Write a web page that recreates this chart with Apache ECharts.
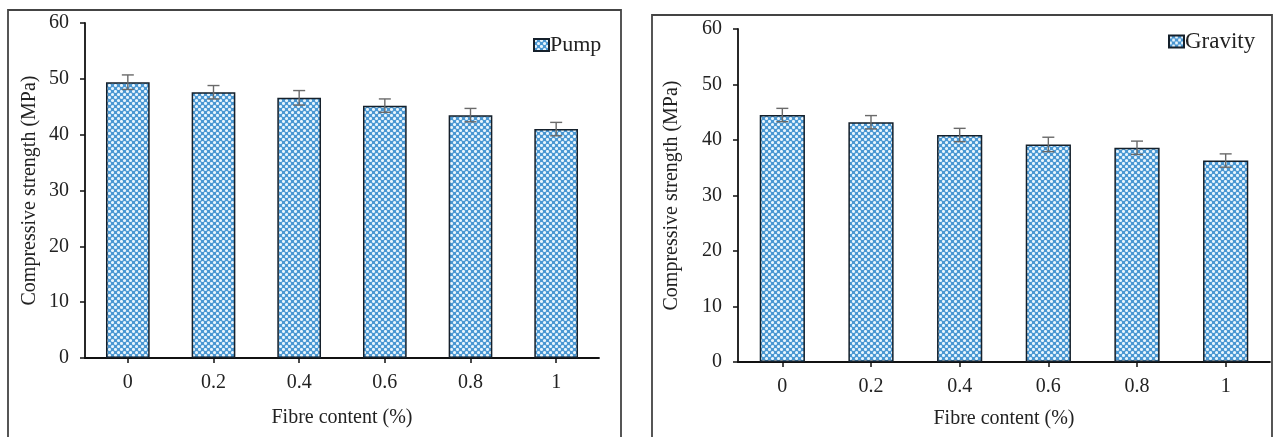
<!DOCTYPE html>
<html>
<head>
<meta charset="utf-8">
<script src="https://cdn.jsdelivr.net/npm/echarts@6/dist/echarts.min.js"></script>
<style>
html,body{margin:0;padding:0;background:#fff;}
#main{width:1273px;height:437px;}
</style>
</head>
<body>
<div id="main"></div>
<script>
// ---- data ----
var categories = ['0', '0.2', '0.4', '0.6', '0.8', '1'];
var pump = [49.4, 47.6, 46.6, 45.2, 43.5, 41.0];
var pumpErr = [1.3, 1.2, 1.3, 1.2, 1.2, 1.2];
var gravity = [44.5, 43.2, 40.9, 39.2, 38.6, 36.3];
var gravityErr = [1.2, 1.2, 1.2, 1.3, 1.2, 1.2];
var yTicks = [0, 10, 20, 30, 40, 50, 60];

// ---- pattern fill ----
function makePattern() {
  var c = document.createElement('canvas');
  c.width = 6; c.height = 6;
  var g = c.getContext('2d');
  g.fillStyle = '#4a97d2';
  g.fillRect(0, 0, 6, 6);
  g.fillStyle = '#e8f5fd';
  [[1.5, 1.5], [4.5, 4.5]].forEach(function (p) {
    g.beginPath(); g.arc(p[0], p[1], 1.55, 0, Math.PI * 2); g.fill();
  });
  return c;
}
var pattern = { image: makePattern(), repeat: 'repeat' };

var font = 'Liberation Serif';
var ink = '#222';

function errData(vals, errs) {
  return vals.map(function (v, i) { return [i, v - errs[i], v + errs[i]]; });
}
function renderErr(params, api) {
  var x = api.value(0);
  var lo = api.coord([x, api.value(1)]);
  var hi = api.coord([x, api.value(2)]);
  var hw = 6;
  var st = { stroke: '#6a6a6a', lineWidth: 1.4 };
  return {
    type: 'group',
    children: [
      { type: 'line', shape: { x1: lo[0], y1: lo[1], x2: hi[0], y2: hi[1] }, style: st },
      { type: 'line', shape: { x1: hi[0] - hw, y1: hi[1], x2: hi[0] + hw, y2: hi[1] }, style: st },
      { type: 'line', shape: { x1: lo[0] - hw, y1: lo[1], x2: lo[0] + hw, y2: lo[1] }, style: st }
    ]
  };
}

function xAxis(idx, gap) {
  return {
    type: 'category', gridIndex: idx, data: categories,
    name: 'Fibre content (%)', nameLocation: 'middle', nameGap: gap,
    nameTextStyle: { fontFamily: font, fontSize: 20, color: ink },
    axisLine: { lineStyle: { color: '#111', width: 1.8 } },
    axisTick: { show: true, alignWithLabel: true, length: 5, lineStyle: { color: '#111', width: 1.5 } },
    axisLabel: { fontFamily: font, fontSize: 20, color: ink, margin: 15 },
    splitLine: { show: false }
  };
}
function yAxis(idx, gap) {
  return {
    type: 'value', gridIndex: idx, min: yTicks[0], max: yTicks[yTicks.length - 1], interval: 10,
    name: 'Compressive strength (MPa)', nameLocation: 'middle', nameGap: gap, nameRotate: 90,
    nameTextStyle: { fontFamily: font, fontSize: 20, color: ink },
    axisLine: { show: true, lineStyle: { color: '#111', width: 1.8 } },
    axisTick: { show: true, length: 5, lineStyle: { color: '#111', width: 1.5 } },
    axisLabel: { fontFamily: font, fontSize: 20, color: ink, margin: 16 },
    splitLine: { show: false }
  };
}
function barSeries(name, data, idx) {
  return {
    name: name, type: 'bar', xAxisIndex: idx, yAxisIndex: idx, data: data,
    barWidth: '51%',
    itemStyle: { color: pattern, borderColor: '#15202b', borderWidth: 1.5 },
    emphasis: { disabled: true }
  };
}

var chart = echarts.init(document.getElementById('main'), null, { renderer: 'canvas' });
chart.setOption({
  animation: false,
  backgroundColor: '#fff',
  grid: [
    { left: 85, top: 23, right: 674, bottom: 79 },
    { left: 738, top: 29, right: 3, bottom: 75 }
  ],
  legend: [
    { data: [{ name: 'Pump', icon: 'rect' }], left: 528, top: 29, itemWidth: 15, itemHeight: 12, itemGap: 4,
      textStyle: { fontFamily: font, fontSize: 22, color: ink, padding: [0, 0, 0, -4] } },
    { data: [{ name: 'Gravity', icon: 'rect' }], left: 1163, top: 25, itemWidth: 15, itemHeight: 12,
      textStyle: { fontFamily: font, fontSize: 23, color: ink, padding: [0, 0, 0, -4] } }
  ],
  xAxis: [xAxis(0, 50), xAxis(1, 47)],
  yAxis: [yAxis(0, 45), yAxis(1, 56)],
  graphic: [
    { type: 'rect', shape: { x: 8, y: 10, width: 613, height: 440 }, style: { fill: 'none', stroke: '#444', lineWidth: 1.8 }, silent: true, z: -1 },
    { type: 'rect', shape: { x: 652, y: 15, width: 620, height: 440 }, style: { fill: 'none', stroke: '#444', lineWidth: 1.8 }, silent: true, z: -1 }
  ],
  series: [
    barSeries('Pump', pump, 0),
    { type: 'custom', xAxisIndex: 0, yAxisIndex: 0, renderItem: renderErr, data: errData(pump, pumpErr), z: 5, silent: true },
    barSeries('Gravity', gravity, 1),
    { type: 'custom', xAxisIndex: 1, yAxisIndex: 1, renderItem: renderErr, data: errData(gravity, gravityErr), z: 5, silent: true }
  ]
});
</script>
</body>
</html>
